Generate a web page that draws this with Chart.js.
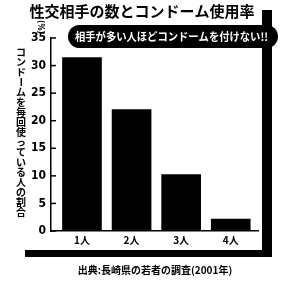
<!DOCTYPE html>
<html>
<head>
<meta charset="utf-8">
<script src="https://cdn.jsdelivr.net/npm/chart.js@4"></script>
<style>
  html, body { margin: 0; padding: 0; background: #fff; }
</style>
</head>
<body>
<canvas id="condomChart" width="286" height="282"></canvas>
<script>
// data
const categories = ['1人', '2人', '3人', '4人'];
const usageRate = [31.5, 22.1, 10.3, 2.2];
const yMax = 35;
const yStep = 5;
const chartTitle = '性交相手の数とコンドーム使用率';
const yTitle = 'コンドームを毎回使っている人の割合';
const unitLabel = '(%)';
const calloutText = '相手が多い人ほどコンドームを付けない!!';
const sourceText = '出典:長崎県の若者の調査(2001年)';

const jp = '"Noto Sans CJK JP", "Noto Sans", sans-serif';
const narrow = '"Liberation Sans Narrow", "DejaVu Sans Condensed", "Liberation Sans", sans-serif';

// extra drawing: inward ticks, vertical axis title, callout, frame, source
const decor = {
    id: 'decor',
    afterDraw(chart) {
        const { ctx, chartArea: a, scales: { y } } = chart;
        ctx.save();

        // small ticks pointing into the plot
        ctx.strokeStyle = '#000';
        ctx.lineWidth = 1.5;
        y.ticks.forEach(t => {
            const py = y.getPixelForValue(t.value);
            ctx.beginPath();
            ctx.moveTo(a.left, py);
            ctx.lineTo(a.left + 5, py);
            ctx.stroke();
        });

        // frame on the right and bottom
        ctx.fillStyle = '#000';
        ctx.fillRect(262, 10, 10, 247);
        ctx.fillRect(25, 250, 247, 7);

        // vertical axis title, one character at a time
        ctx.font = 'bold 10px ' + jp;
        ctx.textAlign = 'center';
        ctx.textBaseline = 'middle';
        [...yTitle].forEach((ch, i) => {
            const cy = 52 + i * 10;
            if (ch === 'ー') {
                ctx.save();
                ctx.translate(21, cy);
                ctx.rotate(Math.PI / 2);
                ctx.fillText(ch, 0, 0);
                ctx.restore();
            } else {
                ctx.fillText(ch, 21, cy);
            }
        });

        // unit
        ctx.save();
        ctx.translate(40, 27);
        ctx.rotate(Math.PI / 2);
        ctx.font = 'bold 8px ' + narrow;
        ctx.fillText(unitLabel, 0, 0);
        ctx.restore();

        // callout pill
        ctx.beginPath();
        ctx.roundRect(68, 25, 210, 23, 11.5);
        ctx.fill();
        ctx.fillStyle = '#fff';
        ctx.font = 'bold 11px ' + jp;
        ctx.textAlign = 'left';
        ctx.fillText(calloutText, 75, 37, 193);

        // source
        ctx.fillStyle = '#000';
        ctx.font = 'bold 10px ' + jp;
        ctx.textAlign = 'center';
        ctx.fillText(sourceText, 155, 270, 186);

        ctx.restore();
    }
};

const ctx = document.getElementById('condomChart').getContext('2d');
const condomChart = new Chart(ctx, {
    type: 'bar',
    data: {
        datasets: [{
            data: categories.map((c, i) => ({ x: i + 1, y: usageRate[i] })),
            backgroundColor: '#000',
            barPercentage: 0.8,
            categoryPercentage: 1
        }]
    },
    options: {
        responsive: false,
        animation: false,
        layout: { padding: { left: 26, right: 28, top: 0, bottom: 33 } },
        plugins: {
            legend: { display: false },
            tooltip: { enabled: false },
            title: {
                display: true,
                text: chartTitle,
                color: '#000',
                font: { family: jp, size: 15, weight: 'bold' },
                padding: { top: 2, bottom: 18 }
            }
        },
        scales: {
            x: {
                type: 'linear',
                bounds: 'data',
                offset: false,
                min: 0.375,
                max: 4.55,
                grid: { display: false, drawTicks: false, offset: false },
                border: { color: '#000', width: 1.5 },
                afterBuildTicks: s => { s.ticks = categories.map((c, i) => ({ value: i + 1 })); },
                afterFit: s => { s.height = 18; },
                ticks: {
                    color: '#000',
                    padding: 3,
                    font: { family: jp, size: 10, weight: 'bold' },
                    callback: v => categories[v - 1]
                }
            },
            y: {
                min: 0,
                max: yMax,
                grid: { display: false, drawTicks: false },
                border: { color: '#000', width: 1.5 },
                afterFit: s => { s.width = 25; },
                ticks: {
                    stepSize: yStep,
                    color: '#000',
                    padding: 5,
                    font: { family: narrow, size: 12, weight: 'bold' }
                }
            }
        }
    },
    plugins: [decor]
});
</script>
</body>
</html>
